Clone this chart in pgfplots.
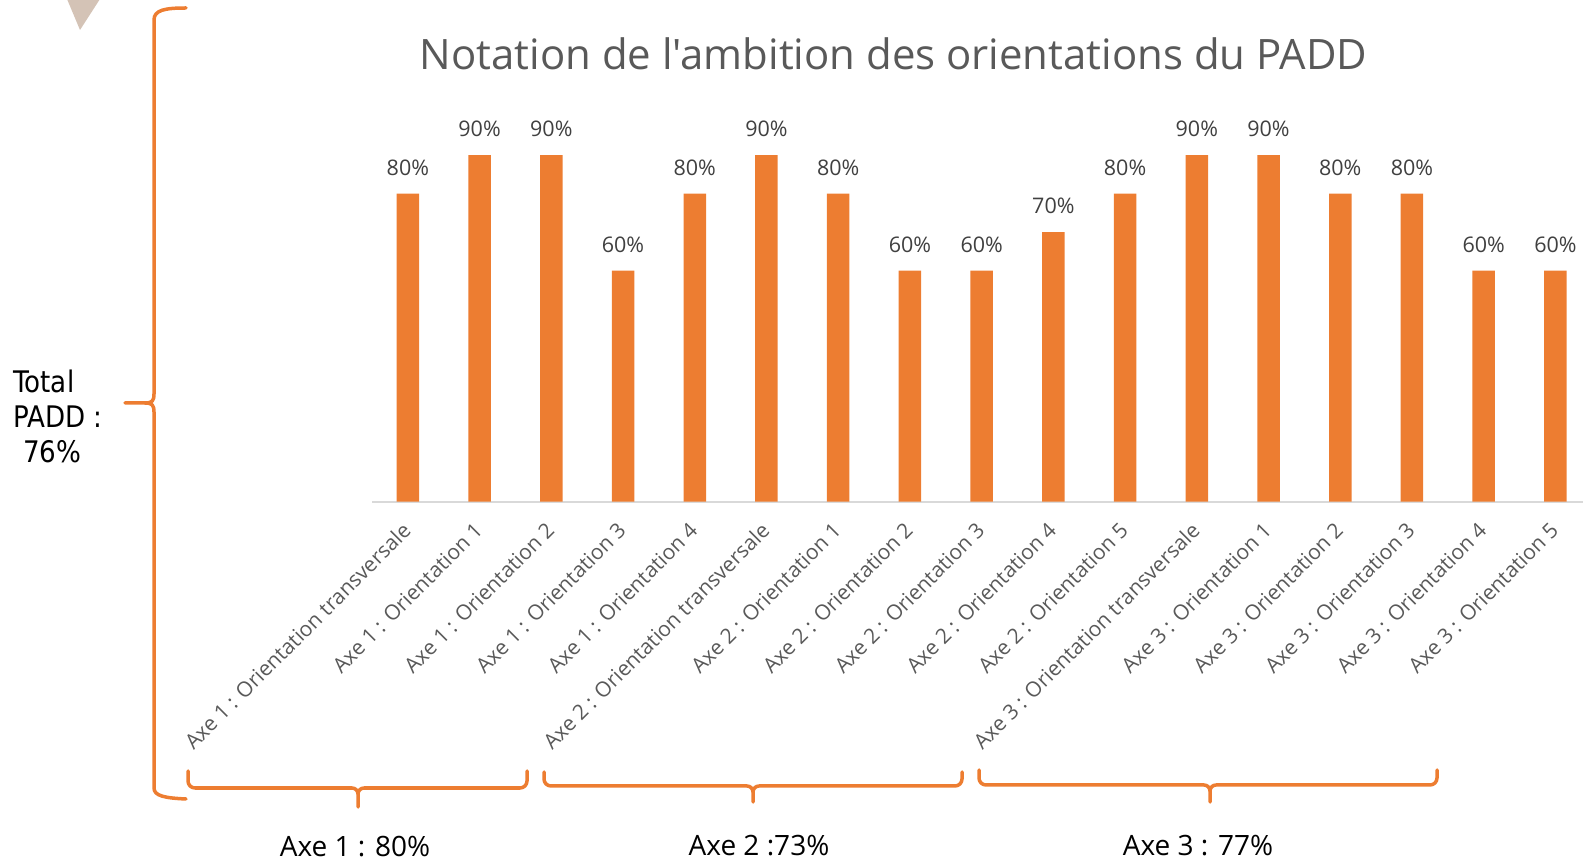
\documentclass[border=0pt]{standalone}
\usepackage{pgfplots}
\pgfplotsset{compat=1.18}
\usepackage{fontspec}
\setmainfont{Open Sans}
\newfontfamily\titlefont[Ligatures=TeXOff]{Open Sans}
\newfontfamily\tah[FakeStretch=0.88]{DejaVu Sans}
\definecolor{bar}{HTML}{ED7D31}
\definecolor{brace}{HTML}{ED7D31}
\definecolor{tick}{HTML}{595959}
\definecolor{lab}{HTML}{404040}
\definecolor{axl}{HTML}{D9D9D9}
\definecolor{tri}{HTML}{D4C3B6}
\newcommand\hbr[6]{%
  \draw[brace, line width=3.5pt, line cap=round, line join=round]
    (#1,#4) -- (#1,#5+7) to[out=-90,in=180] (#1+7,#5) -- (#3-6,#5)
    to[out=0,in=90] (#3,#5-6) -- (#3,#6);
  \draw[brace, line width=3.5pt, line cap=round, line join=round]
    (#3,#5-6) to[out=90,in=180] (#3+6,#5) -- (#2-7,#5)
    to[out=0,in=-90] (#2,#5+7) -- (#2,#4);}
\begin{document}
\begin{tikzpicture}[x=1pt,y=1pt]
\useasboundingbox (0,0) rectangle (1583,860);
\fill[tri] (67,861) -- (100,861) -- (80,830) -- cycle;
\node[anchor=base, font=\titlefont\fontsize{41.9}{48}\selectfont, text=tick, inner sep=0pt] at (893.5,790) {Notation de l'ambition des orientations du PADD};
\begin{axis}[
  at={(372pt,358.3pt)}, anchor=south west,
  scale only axis, width=1211.9pt, height=385pt,
  xmin=-0.5, xmax=16.397, ymin=0, ymax=100,
  axis x line*=bottom, axis y line=none,
  x axis line style={-, draw=axl, line width=2pt},
  xtick={0,...,16},
  xticklabels={Axe 1 : Orientation transversale, Axe 1 : Orientation 1, Axe 1 : Orientation 2, Axe 1 : Orientation 3, Axe 1 : Orientation 4, Axe 2 : Orientation transversale, Axe 2 : Orientation 1, Axe 2 : Orientation 2, Axe 2 : Orientation 3, Axe 2 : Orientation 4, Axe 2 : Orientation 5, Axe 3 : Orientation transversale, Axe 3 : Orientation 1, Axe 3 : Orientation 2, Axe 3 : Orientation 3, Axe 3 : Orientation 4, Axe 3 : Orientation 5},
  major tick length=0pt,
  xticklabel style={xshift=-1pt, yshift=-25pt, rotate=45, anchor=east, font=\fontsize{21}{25}\selectfont, text=tick, inner sep=0pt},
  ybar, bar width=22.5pt,
  /pgf/number format/assume math mode=true,
  nodes near coords={\pgfmathprintnumber{\pgfplotspointmeta}\%},
  every node near coord/.append style={font=\fontsize{21.5}{25}\selectfont, text=lab, anchor=base, yshift=18.5pt},
  clip=false,
]
\addplot[fill=bar, draw=none] coordinates {
(0,80) (1,90) (2,90) (3,60) (4,80) (5,90) (6,80) (7,60) (8,60)
(9,70) (10,80) (11,90) (12,90) (13,80) (14,80) (15,60) (16,60)};
\end{axis}
% left brace
\draw[brace, line width=3.5pt, line cap=round, line join=round]
  (186,852) .. controls (165,852) and (154,850) .. (154,840) -- (154,466)
  .. controls (154,459) and (152,457) .. (145,457) -- (125,457);
\draw[brace, line width=3.5pt, line cap=round, line join=round]
  (145,457) .. controls (152,457) and (154,455) .. (154,448) -- (154,72)
  .. controls (154,64) and (165,62) .. (186,61);
\hbr{188}{527}{358}{89}{72}{53}
\hbr{544}{962}{753}{88}{74}{58}
\hbr{979}{1437}{1210}{90}{75}{58}
\node[anchor=base west, font=\tah\fontsize{29.7}{34}\selectfont, inner sep=0pt] at (13,467) {Total};
\node[anchor=base west, font=\tah\fontsize{29.7}{34}\selectfont, inner sep=0pt] at (13,432) {PADD :};
\node[anchor=base west, font=\tah\fontsize{29.7}{34}\selectfont, inner sep=0pt] at (23,397) {76\%};
\node[anchor=base, font=\fontsize{28}{32}\selectfont, inner sep=0pt] at (355,4) {Axe 1 : 80\%};
\node[anchor=base, font=\fontsize{28}{32}\selectfont, inner sep=0pt] at (759,5) {Axe 2 :73\%};
\node[anchor=base, font=\fontsize{28}{32}\selectfont, inner sep=0pt] at (1198,5) {Axe 3 : 77\%};
\end{tikzpicture}
\end{document}
